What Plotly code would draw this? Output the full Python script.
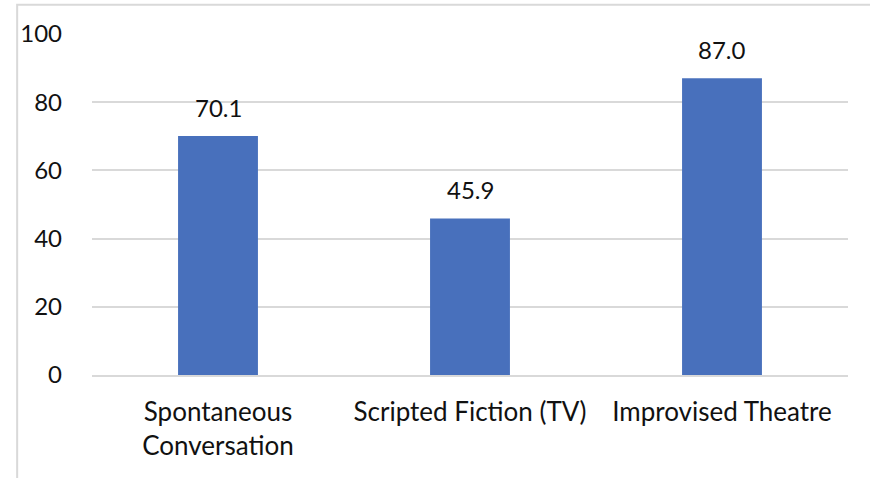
import plotly.graph_objects as go

categories = ["Spontaneous<br>Conversation", "Scripted Fiction (TV)", "Improvised Theatre"]
values = [70.1, 45.9, 87.0]
labels = ["70.1", "45.9", "87.0"]
y_ticks = [0, 20, 40, 60, 80, 100]

font_family = "Lato, Open Sans, sans-serif"
text_color = "#111111"

fig = go.Figure(go.Bar(
    x=categories, y=values,
    marker=dict(color="#4870BC", line=dict(width=0)),
    width=0.317,
    hoverinfo="skip",
))

for c, v, t in zip(categories, values, labels):
    fig.add_annotation(x=c, y=v, text=t, showarrow=False, yanchor="bottom", yshift=12,
                       font=dict(size=24, color=text_color, family=font_family))

fig.update_layout(
    width=870, height=478,
    margin=dict(l=92, r=22, t=34, b=103),
    paper_bgcolor="white", plot_bgcolor="white",
    showlegend=False,
    font=dict(family=font_family, size=24, color=text_color),
    xaxis=dict(showgrid=False, showline=True, linecolor="#D9D9D9", linewidth=1.5,
               ticks="", ticklabelstandoff=13, tickfont=dict(size=26)),
    yaxis=dict(range=[0, 100], tickvals=y_ticks, showgrid=True, gridcolor="#D9D9D9",
               gridwidth=1.5, zeroline=False, showline=False, ticks="",
               ticklabelstandoff=29, tickfont=dict(size=24)),
    shapes=[dict(type="rect", xref="paper", yref="paper", x0=-0.099, x1=1.2, y0=-0.4, y1=1.086,
                 line=dict(color="#D9D9D9", width=2), fillcolor="rgba(0,0,0,0)", layer="above")],
)

fig.write_html("out.html")
